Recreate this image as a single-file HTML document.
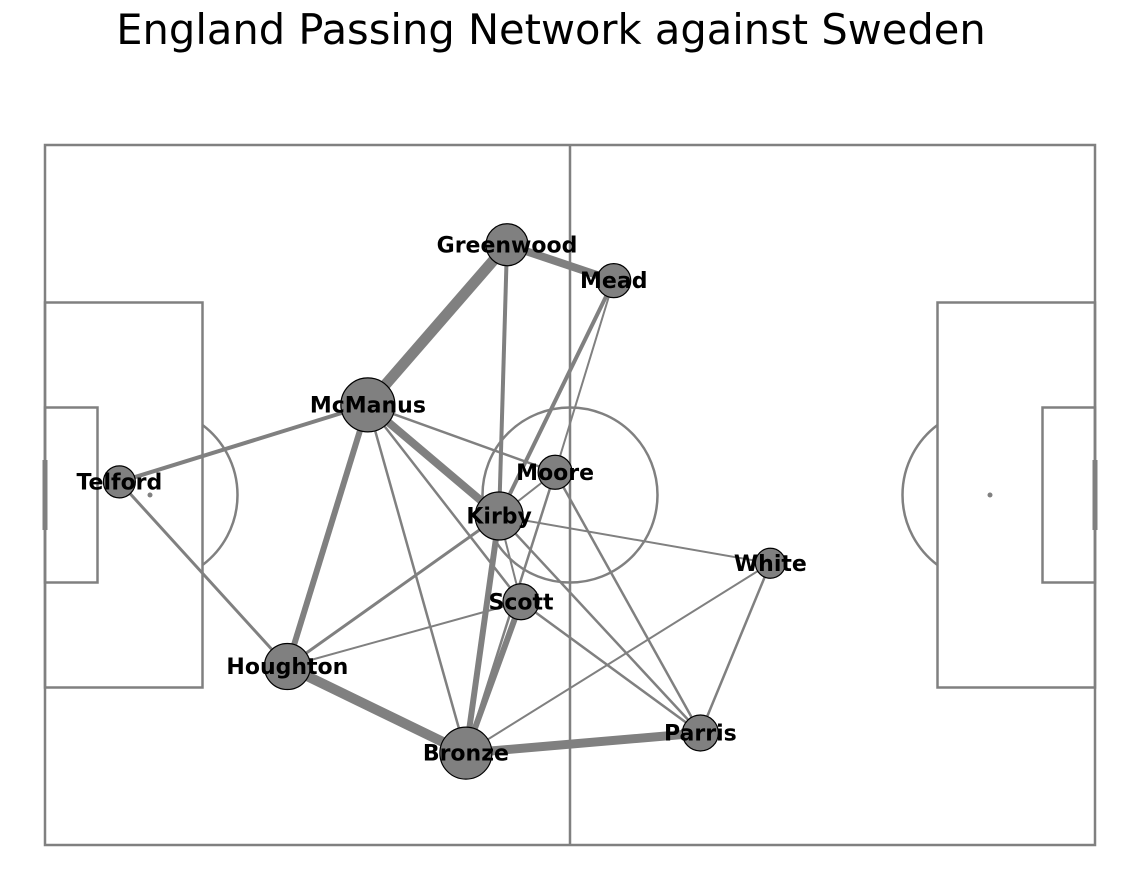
<!DOCTYPE html>
<html><head><meta charset="utf-8"><style>
html,body{margin:0;padding:0;background:#fff;}
svg{display:block;}
</style></head><body>
<svg id="chart" width="1139" height="890" viewBox="0 0 1139 890" xmlns="http://www.w3.org/2000/svg">
<text x="551" y="44" text-anchor="middle" font-family="DejaVu Sans, Liberation Sans, sans-serif" font-size="41.6" fill="#000">England Passing Network against Sweden</text>
<g id="pitch" fill="none" stroke="#808080" stroke-width="2.5"></g>
<g id="edges"></g>
<g id="nodes"></g>
</svg>
<script>
const players = ["Greenwood","Mead","McManus","Telford","Moore","Kirby","White","Scott","Houghton","Bronze","Parris"];
const posX = [52.8,65.0,36.9,8.5,58.3,51.9,82.9,54.4,27.7,48.1,74.9];
const posY = [11.4,15.5,29.7,38.5,37.4,42.4,47.8,52.2,59.6,69.5,67.2];
const nodeSize = [21,17,27,16,17,24,15,18,23,26,18];
const edgeFrom = ["Greenwood","Greenwood","Greenwood","Mead","Mead","McManus","McManus","McManus","McManus","McManus","McManus","Telford","Kirby","Kirby","Kirby","Kirby","Kirby","Moore","Moore","Moore","Scott","Scott","Scott","Bronze","Bronze","Bronze","White"];
const edgeTo   = ["Mead","McManus","Kirby","Kirby","Moore","Telford","Kirby","Houghton","Moore","Bronze","Scott","Houghton","White","Houghton","Bronze","Parris","Scott","Kirby","Bronze","Parris","Houghton","Bronze","Parris","Parris","White","Houghton","Parris"];
const edgeWeight = [8,11,4,4,2,4,8,6,2.5,2.5,2.5,3,2,3,6,2.5,2,2,2.5,2.5,2,6,2.5,9,2,10,2.5];

const sx = v => 45 + v*8.75;
const sy = v => 145 + v*8.75;
const NS = "http://www.w3.org/2000/svg";
function mk(tag, attrs, parent){const e=document.createElementNS(NS,tag);for(const k in attrs)e.setAttribute(k,attrs[k]);parent.appendChild(e);return e;}

const pitch = document.getElementById('pitch');
let el;
el = mk('rect',{x:sx(0),y:sy(0),width:sx(120)-sx(0),height:sy(80)-sy(0)},pitch);


el = mk('line',{x1:sx(60),y1:sy(0),x2:sx(60),y2:sy(80)},pitch);


el = mk('circle',{cx:sx(60),cy:sy(40),r:87.5},pitch);


[[0,1],[120,-1]].forEach(([gx,d])=>{
  el = mk('rect',{x:Math.min(sx(gx),sx(gx+18*d)),y:sy(18),width:157.5,height:sy(62)-sy(18)},pitch);
  
  
  el = mk('rect',{x:Math.min(sx(gx),sx(gx+6*d)),y:sy(30),width:52.5,height:sy(50)-sy(30)},pitch);
  
  
  el = mk('line',{x1:sx(gx),y1:sy(36),x2:sx(gx),y2:sy(44),'stroke-width':5},pitch);
  
  
  el = mk('circle',{cx:sx(gx+12*d),cy:sy(40),r:2.5,fill:'#808080',stroke:'none'},pitch);
  
  
  const px=sx(gx+12*d), cy=sy(40), r=87.5, dx=sx(gx+18*d)-px, dy=Math.sqrt(r*r-dx*dx);
  el = mk('path',{d:`M ${px+dx} ${cy-dy} A ${r} ${r} 0 0 ${d>0?1:0} ${px+dx} ${cy+dy}`},pitch);
  
  
});

const edges = document.getElementById('edges');
for(let i=0;i<edgeFrom.length;i++){
  const a=players.indexOf(edgeFrom[i]), b=players.indexOf(edgeTo[i]);
  const ln = mk('line',{x1:sx(posX[a]),y1:sy(posY[a]),x2:sx(posX[b]),y2:sy(posY[b]),stroke:'#808080','stroke-width':edgeWeight[i]},edges);
  
  
}
const nodes = document.getElementById('nodes');
for(let i=0;i<players.length;i++){
  const c = mk('circle',{cx:sx(posX[i]),cy:sy(posY[i]),r:nodeSize[i],fill:'#808080',stroke:'#000','stroke-width':1.2},nodes);
  
  
}
for(let i=0;i<players.length;i++){
  const t = mk('text',{x:sx(posX[i]),y:sy(posY[i])+7.5,'text-anchor':'middle','font-family':'DejaVu Sans, Liberation Sans, sans-serif','font-size':22,'font-weight':'bold',fill:'#000'},nodes);
  t.textContent = players[i];
  
  
}
</script>
</body></html>
